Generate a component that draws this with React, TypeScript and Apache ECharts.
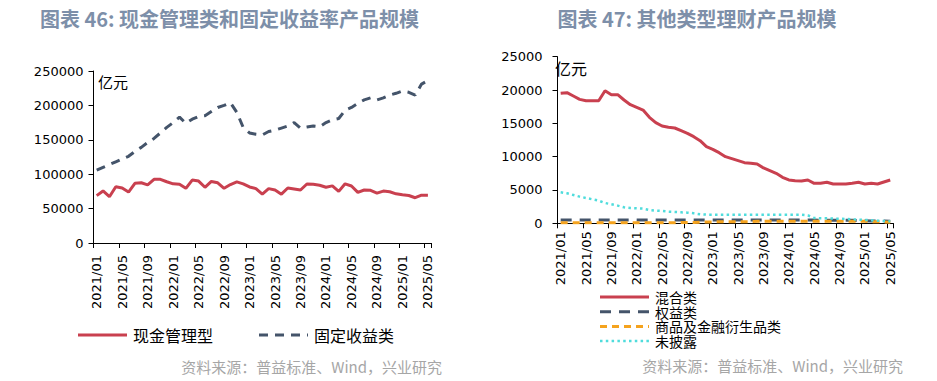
import React, { useEffect, useRef } from "react";
import * as echarts from "echarts";

const months = [
  "2021/01", "2021/02", "2021/03", "2021/04", "2021/05", "2021/06", "2021/07", "2021/08", "2021/09", "2021/10", "2021/11", "2021/12",
  "2022/01", "2022/02", "2022/03", "2022/04", "2022/05", "2022/06", "2022/07", "2022/08", "2022/09", "2022/10", "2022/11", "2022/12",
  "2023/01", "2023/02", "2023/03", "2023/04", "2023/05", "2023/06", "2023/07", "2023/08", "2023/09", "2023/10", "2023/11", "2023/12",
  "2024/01", "2024/02", "2024/03", "2024/04", "2024/05", "2024/06", "2024/07", "2024/08", "2024/09", "2024/10", "2024/11", "2024/12",
  "2025/01", "2025/02", "2025/03", "2025/04", "2025/05",
];

// 图表 46 (亿元)
const cashMgmt = [
  68800, 75600, 67300, 81800, 80000, 74000, 86800, 87600, 84500, 92600,
  92600, 89000, 86000, 85500, 79500, 91500, 90000, 81000, 89500, 87500,
  79500, 85000, 88900, 86000, 81500, 79000, 71000, 79000, 77000, 71000,
  80000, 78500, 77000, 85800, 85300, 84000, 81000, 83000, 75000, 86000,
  82800, 73500, 77000, 76500, 72500, 75500, 74500, 71500, 70000, 69000,
  65800, 69500, 69500,
];
const fixedIncome = [
  106000, 110000, 114000, 118000, 122000, 126000, 133000, 139000, 146000, 152000,
  160000, 168000, 175000, 183000, 174000, 180000, 184000, 185000, 191000, 197000,
  200000, 204000, 190000, 168000, 160000, 158000, 157000, 162000, 164000, 167000,
  170000, 175000, 167000, 168500, 170000, 169000, 175000, 179000, 181000, 193000,
  197000, 203000, 208000, 211000, 208000, 211000, 215000, 217600, 221000, 219000,
  215000, 231000, 236000,
];

// 图表 47 (亿元)
const mixed = [
  19500, 19600, 19100, 18600, 18400, 18400, 18400, 19900, 19300, 19300,
  18500, 17800, 17400, 17000, 15900, 15100, 14600, 14400, 14300, 13900,
  13500, 13000, 12400, 11500, 11100, 10600, 10000, 9700, 9400, 9100,
  9000, 8900, 8300, 7900, 7500, 6900, 6500, 6400, 6350, 6500,
  6000, 6000, 6150, 5900, 5900, 5900, 6000, 6150, 5900, 6000,
  5900, 6200, 6500,
];
const equity = [
  500, 500, 500, 500, 500, 500, 500, 500, 500, 500,
  500, 500, 500, 500, 500, 500, 500, 500, 500, 500,
  500, 500, 500, 500, 500, 500, 500, 500, 500, 500,
  500, 500, 500, 500, 500, 500, 480, 480, 480, 480,
  480, 450, 450, 450, 450, 450, 450, 400, 380, 360,
  350, 330, 300,
];
const commodity = [
  80, 80, 80, 80, 80, 80, 80, 80, 80, 80,
  80, 80, 80, 80, 80, 80, 80, 80, 80, 120,
  120, 120, 180, 180, 180, 250, 250, 250, 250, 250,
  250, 300, 300, 300, 300, 300, 300, 300, 300, 300,
  300, 300, 300, 300, 300, 300, 300, 300, 300, 250,
  230, 200, 150,
];
const undisclosed = [
  4650, 4500, 4250, 4000, 3800, 3600, 3400, 3050, 2850, 2650,
  2400, 2300, 2250, 2200, 2000, 1900, 1850, 1750, 1700, 1650,
  1600, 1500, 1350, 1300, 1300, 1300, 1300, 1300, 1300, 1300,
  1300, 1300, 1300, 1300, 1300, 1300, 1300, 1300, 1300, 1200,
  800, 750, 750, 700, 700, 650, 600, 550, 500, 450,
  400, 350, 300,
];

const names46 = ["现金管理型", "固定收益类"];
const names47 = ["混合类", "权益类", "商品及金融衍生品类", "未披露"];

const RED = "#c9404f";
const NAVY = "#44546a";
const ORANGE = "#f5a31e";
const CYAN = "#4fdcdc";
const NUM_FONT = "DejaVu Sans";
const CJK_FONT = "Noto Sans CJK SC";

const DASH_FI: number[] = [9, 7];
const DASH_EQ: number[] = [11, 8];
const DASH_CM: number[] = [7, 5];
const DASH_UD: number[] = [2.5, 3.3];

function xAxis(gridIndex: number, margin: number) {
  return {
    type: "category",
    gridIndex,
    data: months,
    boundaryGap: true,
    axisLine: { show: true, lineStyle: { color: "#000", width: 1 } },
    axisTick: { show: true, interval: 3, length: 5, lineStyle: { color: "#000" } },
    axisLabel: { interval: 3, rotate: 90, margin, fontSize: 13, color: "#000", fontFamily: NUM_FONT },
    splitLine: { show: false },
  };
}
function yAxis(gridIndex: number, max: number, interval: number, margin: number) {
  return {
    type: "value",
    gridIndex,
    min: 0,
    max,
    interval,
    axisLine: { show: true, lineStyle: { color: "#000", width: 1 } },
    axisTick: { show: true, length: 5, lineStyle: { color: "#000" } },
    axisLabel: { margin, fontSize: 13, color: "#000", fontFamily: NUM_FONT, formatter: (v: number) => String(v) },
    splitLine: { show: false },
  };
}
function line(name: string, data: number[], idx: number, color: string, type: any, width = 3) {
  return {
    name,
    type: "line",
    xAxisIndex: idx,
    yAxisIndex: idx,
    data,
    symbol: "none",
    showSymbol: false,
    lineStyle: { color, width, type },
    itemStyle: { color },
  };
}
function legendItem(x: number, y: number, text: string, color: string, dash: number[] | null, width: number, fontSize: number) {
  return [
    {
      type: "line",
      shape: { x1: x, y1: y, x2: x + 49, y2: y },
      style: { stroke: color, lineWidth: width, lineDash: dash || undefined },
    },
    {
      type: "text",
      x: x + 55,
      y,
      style: { text, fontSize, lineHeight: fontSize, fill: "#000", fontFamily: CJK_FONT, textVerticalAlign: "middle" },
    },
  ];
}

export default function App() {
  const ref = useRef<HTMLDivElement>(null);
  useEffect(() => {
    if (!ref.current) return;
    const chart = echarts.init(ref.current, undefined, { renderer: "svg" });
    const titleStyle = { fontSize: 20, fontWeight: "bold", fill: "#7d8fa9", fontFamily: CJK_FONT };
    chart.setOption({
      animation: false,
      backgroundColor: "#fff",
      grid: [
        { left: 93.5, top: 71, width: 337.6, height: 172 },
        { left: 557.5, top: 56.7, width: 335.9, height: 166.6 },
      ],
      xAxis: [xAxis(0, 12), xAxis(1, 8)],
      yAxis: [yAxis(0, 250000, 50000, 10), yAxis(1, 25000, 5000, 15)],
      series: [
        line(names46[0], cashMgmt, 0, RED, "solid"),
        line(names46[1], fixedIncome, 0, NAVY, DASH_FI),
        line(names47[0], mixed, 1, RED, "solid"),
        line(names47[1], equity, 1, NAVY, DASH_EQ),
        line(names47[2], commodity, 1, ORANGE, DASH_CM),
        line(names47[3], undisclosed, 1, CYAN, DASH_UD, 2.5),
      ],
      graphic: [
        { type: "text", x: 229.5, y: 18.5, style: { ...titleStyle, text: "图表 46: 现金管理类和固定收益率产品规模", textAlign: "center", textVerticalAlign: "middle" } },
        { type: "text", x: 697, y: 18.5, style: { ...titleStyle, text: "图表 47: 其他类型理财产品规模", textAlign: "center", textVerticalAlign: "middle" } },
        { type: "text", x: 98, y: 81, style: { text: "亿元", fontSize: 15, fill: "#000", fontFamily: CJK_FONT, textVerticalAlign: "middle" } },
        { type: "text", x: 555, y: 67.5, style: { text: "亿元", fontSize: 16, fill: "#000", fontFamily: CJK_FONT, textVerticalAlign: "middle" } },
        ...legendItem(78, 335, names46[0], RED, null, 3, 16),
        ...legendItem(259, 335, names46[1], NAVY, DASH_FI, 3, 16),
        ...legendItem(600, 297, names47[0], RED, null, 3, 14),
        ...legendItem(600, 311.7, names47[1], NAVY, DASH_EQ, 3, 14),
        ...legendItem(600, 326.4, names47[2], ORANGE, DASH_CM, 3, 14),
        ...legendItem(600, 341.1, names47[3], CYAN, DASH_UD, 2.5, 14),
        { type: "text", x: 442, y: 366.5, style: { text: "资料来源：普益标准、Wind，兴业研究", fontSize: 15, fill: "#a6a6a6", fontFamily: CJK_FONT, textAlign: "right", textVerticalAlign: "middle" } },
        { type: "text", x: 903, y: 365, style: { text: "资料来源：普益标准、Wind，兴业研究", fontSize: 15, fill: "#a6a6a6", fontFamily: CJK_FONT, textAlign: "right", textVerticalAlign: "middle" } },
      ],
    });
    return () => chart.dispose();
  }, []);
  return <div ref={ref} style={{ position: "fixed", left: 0, top: 0, width: 937, height: 381 }} />;
}
